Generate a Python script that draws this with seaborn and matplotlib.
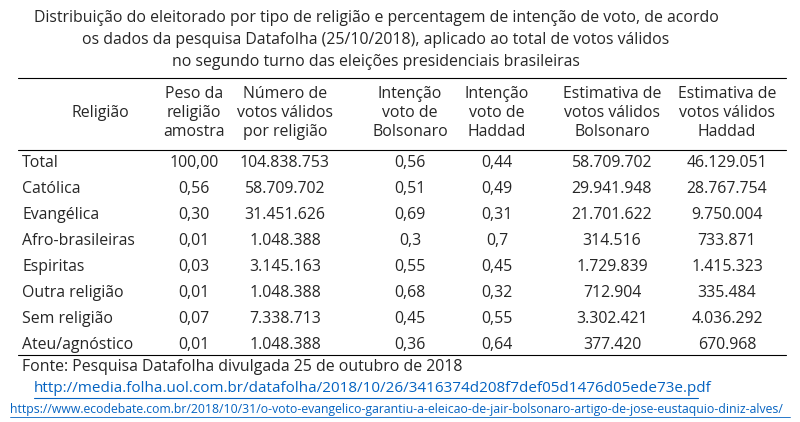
import matplotlib.pyplot as plt
import seaborn as sns

religioes = ["Total", "Católica", "Evangélica", "Afro-brasileiras", "Espiritas",
             "Outra religião", "Sem religião", "Ateu/agnóstico"]
peso = ["100,00", "0,56", "0,30", "0,01", "0,03", "0,01", "0,07", "0,01"]
votos = ["104.838.753", "58.709.702", "31.451.626", "1.048.388", "3.145.163",
         "1.048.388", "7.338.713", "1.048.388"]
int_bolsonaro = ["0,56", "0,51", "0,69", "0,3", "0,55", "0,68", "0,45", "0,36"]
int_haddad = ["0,44", "0,49", "0,31", "0,7", "0,45", "0,32", "0,55", "0,64"]
est_bolsonaro = ["58.709.702", "29.941.948", "21.701.622", "314.516", "1.729.839",
                 "712.904", "3.302.421", "377.420"]
est_haddad = ["46.129.051", "28.767.754", "9.750.004", "733.871", "1.415.323",
              "335.484", "4.036.292", "670.968"]
headers = ["Religião", "Peso da\nreligião\namostra", "Número de\nvotos válidos\npor religião",
           "Intenção\nvoto de\nBolsonaro", "Intenção\nvoto de\nHaddad",
           "Estimativa de\nvotos válidos\nBolsonaro", "Estimativa de\nvotos válidos\nHaddad"]
titulo = ["Distribuição do eleitorado por tipo de religião e percentagem de intenção de voto, de acordo",
          "os dados da pesquisa Datafolha (25/10/2018), aplicado ao total de votos válidos",
          "no segundo turno das eleições presidenciais brasileiras"]

sns.set_theme(style="white")
plt.rcParams["font.family"] = ["Open Sans", "DejaVu Sans"]

fig = plt.figure(figsize=(8, 4.22), dpi=100)
ax = fig.add_axes([0, 0, 1, 1])
ax.set_xlim(0, 800)
ax.set_ylim(422, 0)
ax.axis("off")

fs = 11.4
for i, t in enumerate(titulo):
    ax.text(376, 18 + i * 22, t, ha="center", va="center", fontsize=fs)

col_x = [100, 194, 285, 410, 497, 612, 727]
for x, h in zip(col_x, headers):
    ax.text(x, 113, h, ha="center", va="center", fontsize=fs, linespacing=1.25)

for y in (78, 150, 355):
    ax.plot([18, 786], [y, y], color="black", lw=0.8)

cols = [peso, votos, int_bolsonaro, int_haddad, est_bolsonaro, est_haddad]
for r, nome in enumerate(religioes):
    y = 163 + r * 26
    ax.text(22, y, nome, ha="left", va="center", fontsize=fs)
    for x, col in zip(col_x[1:], cols):
        ax.text(x, y, col[r], ha="center", va="center", fontsize=fs)

ax.text(22, 367, "Fonte: Pesquisa Datafolha divulgada 25 de outubro de 2018",
        ha="left", va="center", fontsize=fs)
ax.text(34, 389, "http://media.folha.uol.com.br/datafolha/2018/10/26/3416374d208f7def05d1476d05ede73e.pdf",
        ha="left", va="center", fontsize=11, color="#0563c1")
ax.plot([34, 698], [398, 398], color="#0563c1", lw=0.8)
ax.text(10, 410, "https://www.ecodebate.com.br/2018/10/31/o-voto-evangelico-garantiu-a-eleicao-de-jair-bolsonaro-artigo-de-jose-eustaquio-diniz-alves/",
        ha="left", va="center", fontsize=8.8, color="#0563c1")
ax.plot([10, 790], [417, 417], color="#0563c1", lw=0.6)

fig.savefig("out.png", dpi=100, facecolor="white")
